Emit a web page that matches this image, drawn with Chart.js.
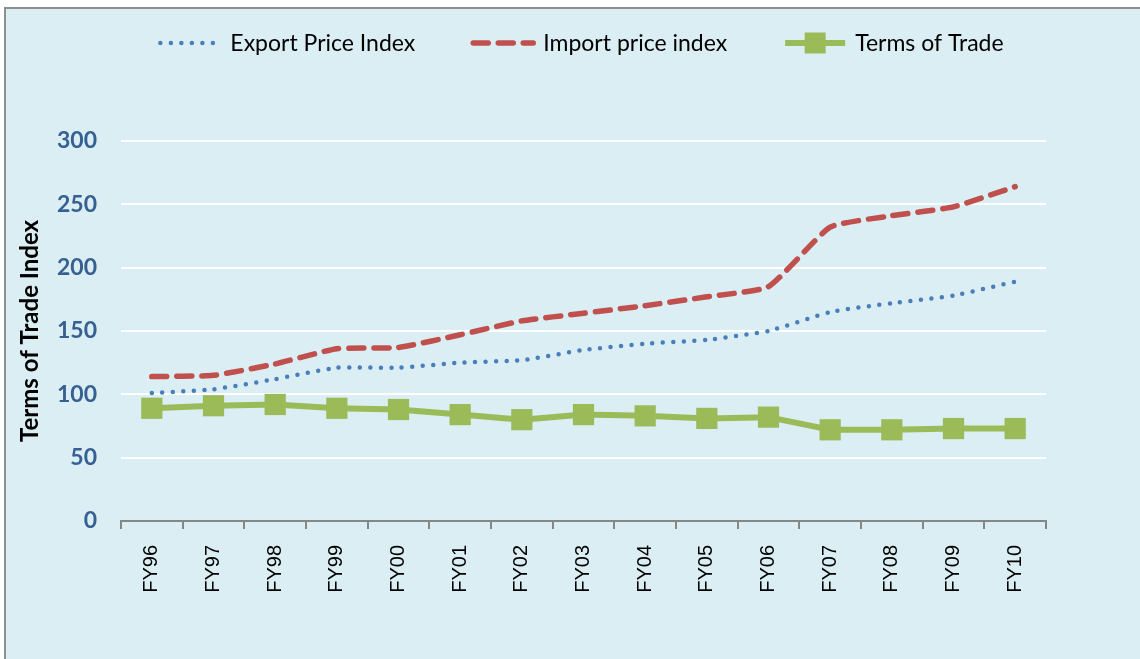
<!DOCTYPE html>
<html>
<head>
<meta charset="utf-8">
<script src="https://cdn.jsdelivr.net/npm/chart.js@4.4.1/dist/chart.umd.min.js"></script>
<style>
  html, body { margin: 0; padding: 0; background: #fff; overflow: hidden; }
  #box { position: absolute; left: 4px; top: 7px; width: 1140px; height: 652px;
         border: 2px solid #8e8e8e; background: #DAEEF3; }
  canvas { display: block; }
</style>
</head>
<body>
<div id="box"><canvas id="tot" width="1136" height="652"></canvas></div>
<script>
var categories = ["FY96", "FY97", "FY98", "FY99", "FY00", "FY01", "FY02", "FY03",
                  "FY04", "FY05", "FY06", "FY07", "FY08", "FY09", "FY10"];
var exportPrice  = [101, 104, 112, 121, 121, 125, 127, 135, 140, 143, 150, 165, 172, 178, 189];
var importPrice  = [114, 115, 124, 136, 137, 147, 158, 164, 170, 177, 185, 232, 241, 248, 264];
var termsOfTrade = [89, 91, 92, 89, 88, 84, 80, 84, 83, 81, 82, 72, 72, 73, 73];
var yTicks = [0, 50, 100, 150, 200, 250, 300];

// legend drawn by hand: long line samples like the Excel original
var topLegend = {
  id: 'topLegend',
  afterDraw: function(chart) {
    var ctx = chart.ctx;
    var sets = chart.data.datasets;
    var sample = 66, gapText = 7, gapItem = 55;
    ctx.save();
    ctx.font = '23px Lato';
    var total = 0;
    sets.forEach(function(ds, i) {
      total += sample + gapText + ctx.measureText(ds.label).width;
      if (i) total += gapItem;
    });
    var x = (chart.chartArea.left + chart.chartArea.right) / 2 - total / 2 - 3;
    var y = 34;
    sets.forEach(function(ds) {
      ctx.beginPath();
      ctx.setLineDash(ds.borderDash || []);
      ctx.lineCap = ds.borderCapStyle || 'butt';
      ctx.lineWidth = ds.borderWidth;
      ctx.strokeStyle = ds.borderColor;
      ctx.moveTo(x + 3, y);
      ctx.lineTo(x + sample - 3, y);
      ctx.stroke();
      if (ds.pointStyle === 'rect') {
        ctx.setLineDash([]);
        ctx.fillStyle = ds.pointBackgroundColor;
        ctx.fillRect(x + sample / 2 - 10.5, y - 10.5, 21, 21);
      }
      ctx.fillStyle = '#000';
      ctx.textBaseline = 'middle';
      ctx.textAlign = 'left';
      ctx.fillText(ds.label, x + sample + gapText, y + 1);
      x += sample + gapText + ctx.measureText(ds.label).width + gapItem;
    });
    ctx.restore();
  }
};

var ctx = document.getElementById('tot').getContext('2d');
var chart = new Chart(ctx, {
  type: 'line',
  data: {
    labels: categories,
    datasets: [{
      label: 'Export Price Index',
      data: exportPrice,
      borderColor: '#4A7EBB',
      borderWidth: 4.5,
      borderDash: [0, 10.5],
      borderCapStyle: 'round',
      tension: 0.15,
      pointRadius: 0
    }, {
      label: 'Import price index',
      data: importPrice,
      borderColor: '#C0504D',
      borderWidth: 5.5,
      borderDash: [15, 10],
      borderCapStyle: 'round',
      tension: 0.15,
      pointRadius: 0
    }, {
      label: 'Terms of Trade',
      data: termsOfTrade,
      borderColor: '#9BBB59',
      borderWidth: 6,
      pointStyle: 'rect',
      pointRadius: 15,
      pointBackgroundColor: '#9BBB59',
      pointBorderWidth: 0
    }]
  },
  options: {
    responsive: false,
    animation: false,
    devicePixelRatio: 1,
    layout: { padding: { top: 132, right: 96, bottom: 0, left: 0 } },
    plugins: { legend: { display: false }, tooltip: { enabled: false } },
    scales: {
      x: {
        offset: true,
        border: { display: true, color: '#868686', width: 2 },
        grid: { drawOnChartArea: false, drawTicks: true, tickLength: 8, color: '#868686', lineWidth: 2, offset: true },
        ticks: { minRotation: 90, maxRotation: 90, padding: 16, color: '#000',
                 font: { family: 'Liberation Sans', size: 20 } },
        afterFit: function(scale) { scale.height = 140; }
      },
      y: {
        min: 0,
        max: 300,
        afterBuildTicks: function(scale) {
          scale.ticks = yTicks.map(function(v) { return { value: v }; });
        },
        border: { display: false },
        grid: {
          drawTicks: false,
          lineWidth: 2,
          color: function(c) { return c.tick && c.tick.value === 0 ? 'rgba(0,0,0,0)' : '#ffffff'; }
        },
        ticks: { padding: 24, color: '#376092',
                 font: { family: 'Lato', size: 23, weight: 'bold' } },
        title: { display: true, text: 'Terms of Trade Index', color: '#000',
                 padding: { top: 10, bottom: 0 },
                 font: { family: 'Lato', size: 24, weight: 'bold' } },
        afterFit: function(scale) { scale.width = 115; }
      }
    }
  },
  plugins: [topLegend]
});
</script>
</body>
</html>
